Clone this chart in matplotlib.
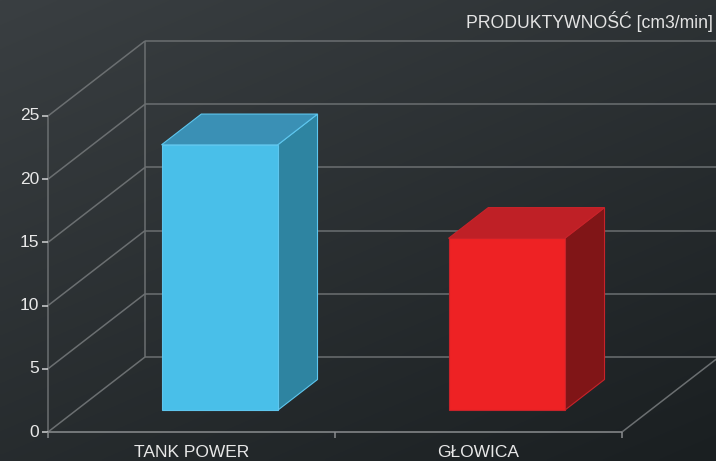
import matplotlib
matplotlib.use('Agg')
import matplotlib.pyplot as plt
import numpy as np
from matplotlib.patches import Polygon

plt.rcParams['font.family'] = ['Liberation Sans', 'DejaVu Sans']

# data
categories = ["TANK POWER", "GŁOWICA"]
values = [21.0, 13.6]
y_ticks = [0, 5, 10, 15, 20, 25]
title = "PRODUKTYWNOŚĆ [cm3/min]"

front_colors = ['#49bfe9', '#ee2224']
top_colors = ['#3a90b5', '#bf2026']
side_colors = ['#2e84a1', '#801517']
edge_colors = ['#5ec6ee', '#c8232a']

W, H = 716, 461
fig = plt.figure(figsize=(W / 100, H / 100), dpi=100)

# background gradient
bg = fig.add_axes([0, 0, 1, 1], zorder=0)
gx, gy = np.meshgrid(np.linspace(0, 1, 200), np.linspace(0, 1, 130))
t = np.clip(0.6 * gy + 0.4 * gx, 0, 1)[..., None]
c_top = np.array([0x3a, 0x3f, 0x42]) / 255
c_bot = np.array([0x1a, 0x1f, 0x21]) / 255
bg.imshow(c_top * (1 - t) + c_bot * t, aspect='auto', extent=[0, 1, 0, 1], interpolation='bilinear')
bg.axis('off')

# front plane of the 3D box: x 48..622 px, y 432..116 px
ax = fig.add_axes([48 / W, (H - 432) / H, 574 / W, 316 / H], zorder=1)
ax.set_xlim(0, len(categories))
ax.set_ylim(0, 25)
ax.axis('off')
ax.patch.set_alpha(0)

# depth offset in data units (97 px right, 75 px up)
DX = 97 / 287
DY = 75 / (316 / 25)
ymax = y_ticks[-1]
xmax = len(categories)
grid_c = '#6b6f71'
axis_c = '#8a8d8f'

kw = dict(clip_on=False, lw=1.1, solid_capstyle='butt')
# back wall horizontal lines + left wall diagonals
for v in y_ticks:
    ax.plot([DX, xmax + DX + 0.5], [v + DY, v + DY], color=grid_c, **kw)
    ax.plot([0, DX], [v, v + DY], color=grid_c, **kw)
ax.plot([DX, DX], [DY, ymax + DY], color=grid_c, **kw)
# floor right diagonal
ax.plot([xmax, xmax + DX], [0, DY], color=grid_c, **kw)
# front axes
ax.plot([0, 0], [0, ymax], color=grid_c, **kw)
ax.plot([0, xmax], [0, 0], color=axis_c, **kw)

# y ticks and labels
tick_y = 5 / (316 / 25)
tick_x = 5 / 287
for v in y_ticks:
    ax.plot([-tick_x * 1.2, 0], [v, v], color='#cfd1d2', **kw)
    ax.text(-0.03, v, str(v), ha='right', va='center', color='#e8e8e8', fontsize=12.5)
# x ticks
for i in range(xmax + 1):
    ax.plot([i, i], [0, -tick_y * 1.2], color=axis_c, **kw)
for i, cat in enumerate(categories):
    ax.text(i + 0.5, -1.05, cat, ha='center', va='top', color='#e8e8e8', fontsize=12.5)

# bars
f0, f1 = 0.29, 0.70
bw = 0.405
for i, val in enumerate(values):
    x0 = i + 0.5 - bw / 2 + f0 * DX
    x1 = x0 + bw
    y0 = f0 * DY
    y1 = y0 + val
    ddx = (f1 - f0) * DX
    ddy = (f1 - f0) * DY
    side = [(x1, y0), (x1 + ddx, y0 + ddy), (x1 + ddx, y1 + ddy), (x1, y1)]
    top = [(x0, y1), (x1, y1), (x1 + ddx, y1 + ddy), (x0 + ddx, y1 + ddy)]
    front = [(x0, y0), (x1, y0), (x1, y1), (x0, y1)]
    for pts, col in [(side, side_colors[i]), (top, top_colors[i]), (front, front_colors[i])]:
        ax.add_patch(Polygon(pts, closed=True, facecolor=col, edgecolor=edge_colors[i],
                             lw=0.8, clip_on=False, zorder=3))

fig.text(1 - 3 / W, 1 - 22 / H, title, ha='right', va='center', color='#e4e4e4', fontsize=12.7)

fig.savefig('out.png', dpi=100)
